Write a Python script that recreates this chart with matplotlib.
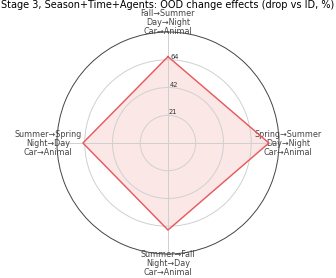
import numpy as np
import matplotlib
matplotlib.use("Agg")
import matplotlib.pyplot as plt

labels = ["Fall\u2192Summer\nDay\u2192Night\nCar\u2192Animal",
          "Spring\u2192Summer\nDay\u2192Night\nCar\u2192Animal",
          "Summer\u2192Fall\nNight\u2192Day\nCar\u2192Animal",
          "Summer\u2192Spring\nNight\u2192Day\nCar\u2192Animal"]
values = [66.0, 77.1, 66.5, 65.0]

n = len(values)
angles = np.linspace(0, 2 * np.pi, n, endpoint=False).tolist()
vals = values + values[:1]
angs = angles + angles[:1]

fig = plt.figure(figsize=(3.36, 2.78), dpi=100)
ax = fig.add_axes([0.1696, 0.0863, 0.6607, 0.7986], polar=True)
ax.set_theta_offset(np.pi / 2)
ax.set_theta_direction(-1)

ax.plot(angs, vals, color="#e8595c", linewidth=1.0)
ax.fill(angs, vals, color="#f4a0a0", alpha=0.25)

rmax = max(values) * 1.1
ax.set_ylim(0, rmax)
ticks = [rmax * f for f in (0.25, 0.5, 0.75)]
ax.set_yticks(ticks)
ax.set_yticklabels([f"{t:.0f}" for t in ticks], fontsize=4.8, color="#333333")
ax.set_rlabel_position(2)

ax.set_xticks(angles)
ax.set_xticklabels(labels, fontsize=5.8, color="#444444", linespacing=1.0)
ax.tick_params(axis="x", pad=-4)

ax.grid(color="#d0d0d0", linewidth=0.7)
ax.spines["polar"].set_color("#444444")
ax.spines["polar"].set_linewidth(0.7)

fig.suptitle("Stage 3, Season+Time+Agents: OOD change effects (drop vs ID, %)",
             fontsize=7.0, y=1.0)

fig.savefig("out.png", dpi=100)
